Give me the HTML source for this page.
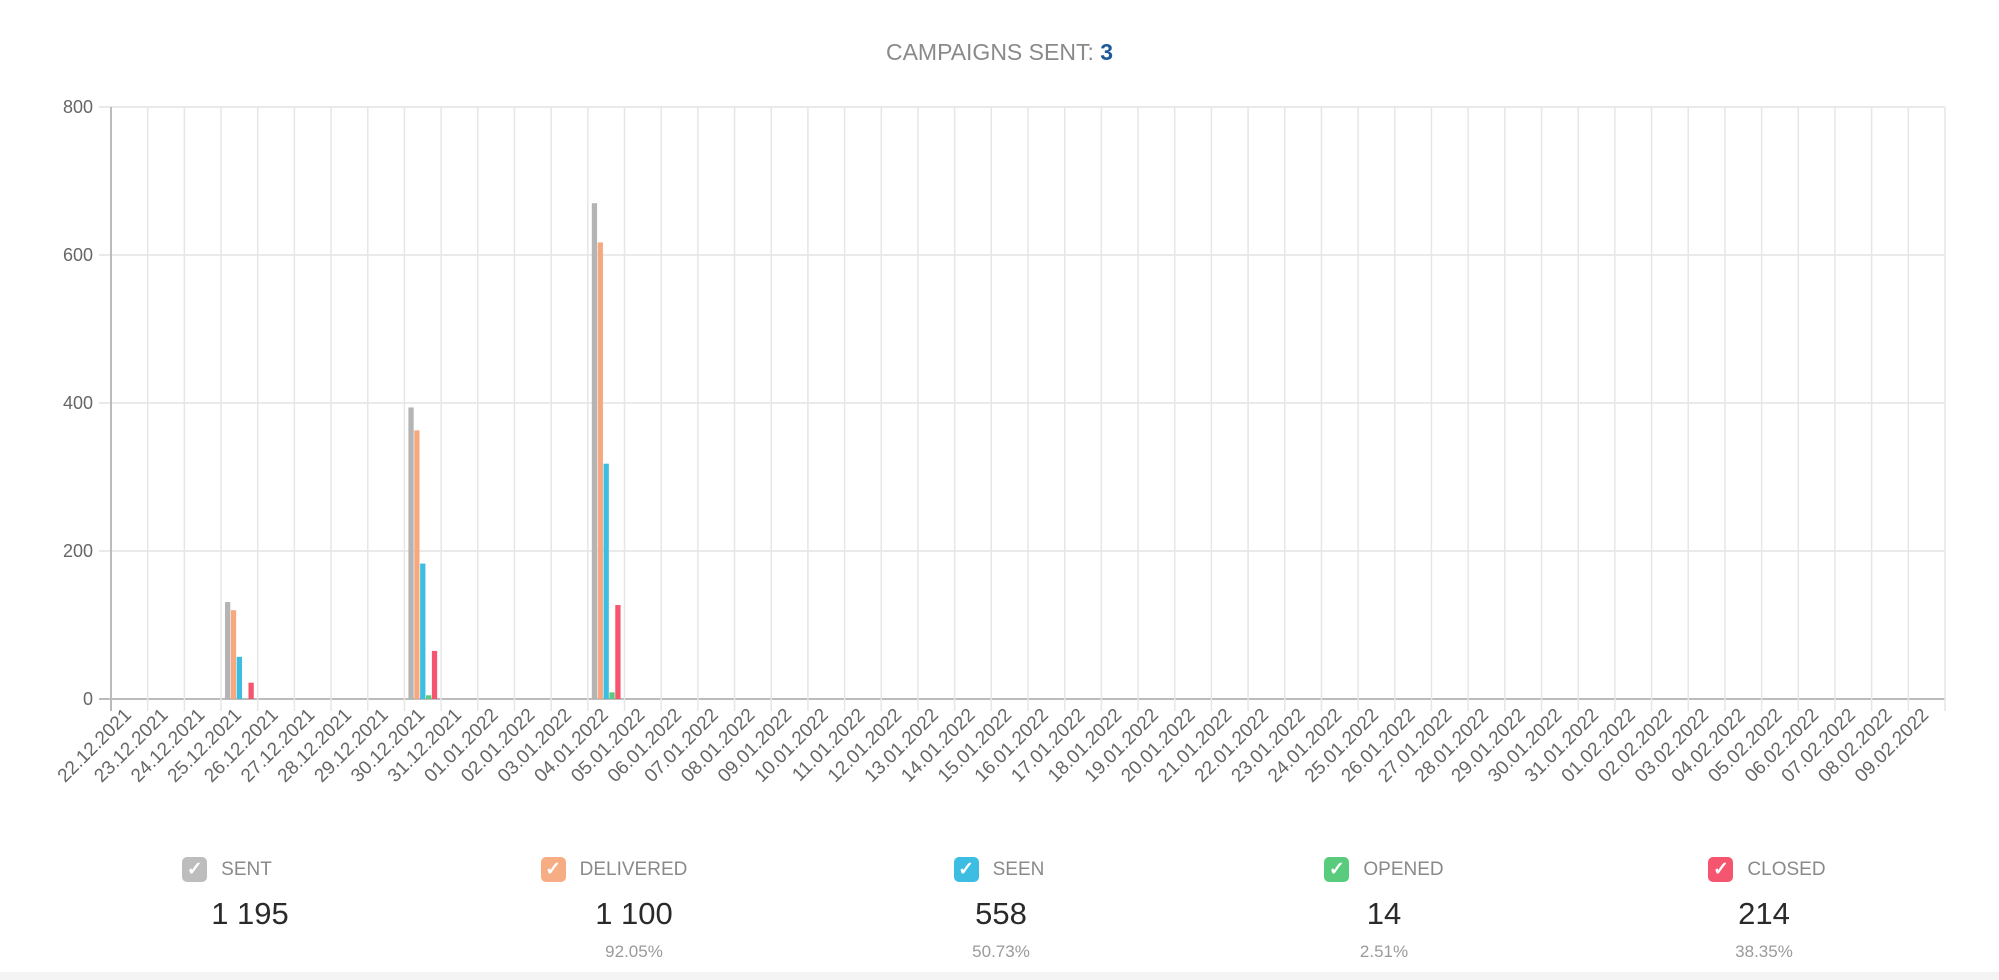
<!DOCTYPE html>
<html><head><meta charset="utf-8"><style>
body{margin:0;width:1999px;height:980px;background:#fff;font-family:"Liberation Sans",sans-serif;overflow:hidden;position:relative}
.title{position:absolute;top:39px;left:0;width:1999px;text-align:center;font-size:23px;color:#8a8a8a}
.title b{color:#1f5a9c}
.col{position:absolute;top:857px;width:300px;text-align:center}
.hd{display:flex;justify-content:center;align-items:center;gap:14px;font-size:19px;color:#8a8a8a}
.cb{width:25px;height:25px;border-radius:5px;color:#fff;font-size:19px;line-height:25px;text-align:center;font-weight:bold}
.num{font-size:31px;color:#2a2a2a;margin-top:14px}
.pct{font-size:17px;color:#9a9a9a;margin-top:10px;height:20px}
.foot{position:absolute;left:0;top:972px;width:1999px;height:8px;background:#f4f4f4}
</style></head><body>
<div class="title">CAMPAIGNS SENT: <b>3</b></div>
<svg id="chart" width="1999" height="840" style="position:absolute;left:0;top:0"></svg>
<div class="col" style="left:100px"><div class="hd" style="margin-right:46px"><div class="cb" style="background:#bdbdbd">✓</div>SENT</div><div class="num">1 195</div><div class="pct"></div></div>
<div class="col" style="left:484px"><div class="hd" style="margin-right:40px"><div class="cb" style="background:#f7ad84">✓</div>DELIVERED</div><div class="num">1 100</div><div class="pct">92.05%</div></div>
<div class="col" style="left:851px"><div class="hd" style="margin-right:4px"><div class="cb" style="background:#3dbde2">✓</div>SEEN</div><div class="num">558</div><div class="pct">50.73%</div></div>
<div class="col" style="left:1234px"><div class="hd"><div class="cb" style="background:#58cc7c">✓</div>OPENED</div><div class="num">14</div><div class="pct">2.51%</div></div>
<div class="col" style="left:1614px"><div class="hd" style="margin-left:6px"><div class="cb" style="background:#f5556e">✓</div>CLOSED</div><div class="num">214</div><div class="pct">38.35%</div></div>
<div class="foot"></div>
<script>
const categories=["22.12.2021","23.12.2021","24.12.2021","25.12.2021","26.12.2021","27.12.2021","28.12.2021","29.12.2021","30.12.2021","31.12.2021","01.01.2022","02.01.2022","03.01.2022","04.01.2022","05.01.2022","06.01.2022","07.01.2022","08.01.2022","09.01.2022","10.01.2022","11.01.2022","12.01.2022","13.01.2022","14.01.2022","15.01.2022","16.01.2022","17.01.2022","18.01.2022","19.01.2022","20.01.2022","21.01.2022","22.01.2022","23.01.2022","24.01.2022","25.01.2022","26.01.2022","27.01.2022","28.01.2022","29.01.2022","30.01.2022","31.01.2022","01.02.2022","02.02.2022","03.02.2022","04.02.2022","05.02.2022","06.02.2022","07.02.2022","08.02.2022","09.02.2022"];
const seriesNames=["sent","delivered","seen","opened","closed"];
const seriesColors=["#b4b4b4","#f6a97e","#3dbde2","#58cc7c","#f5556e"];
const pointCats=["25.12.2021","30.12.2021","04.01.2022"];
const sentVals=[131,394,670];
const deliveredVals=[120,363,617];
const seenVals=[57,183,318];
const openedVals=[0,5,9];
const closedVals=[22,65,127];
const yTicks=[0,200,400,600,800];
const allSeries=[sentVals,deliveredVals,seenVals,openedVals,closedVals];
const X0=111,X1=1945,Y0=699,YT=107,YMAX=800;
const NS="http://www.w3.org/2000/svg";
const svg=document.getElementById('chart');
const bw=(X1-X0)/categories.length;
const xs=i=>X0+i*bw;
const ys=v=>Y0-(v/YMAX)*(Y0-YT);
function mk(t,a){const e=document.createElementNS(NS,t);for(const k in a)e.setAttribute(k,a[k]);svg.appendChild(e);return e;}
yTicks.forEach(v=>{
  const l=mk('line',{x1:X0-12,x2:X1,y1:ys(v),y2:ys(v),stroke:v===0?'#bbb':'#e4e4e4','stroke-width':v===0?2:1.5});
  
  
  const t=mk('text',{x:X0-18,y:ys(v)+6,'text-anchor':'end','font-size':18,fill:'#666'});
  t.textContent=v;
  
  
});
for(let i=0;i<=categories.length;i++){
  const l=mk('line',{x1:xs(i),x2:xs(i),y1:YT,y2:Y0+12,stroke:i===0?'#bbb':'#e6e6e6','stroke-width':i===0?2:1.5});
  
  
}
categories.forEach((c,i)=>{
  const cx=xs(i)+bw/2+3,cy=716;
  const t=mk('text',{x:cx,y:cy,'text-anchor':'end','font-size':19,fill:'#666',transform:`rotate(-45 ${cx} ${cy})`});
  t.textContent=c;
  
  
});
const grpW=bw*0.8,slot=grpW/seriesNames.length,barW=slot*0.9;
pointCats.forEach((c,j)=>{
  const i=categories.indexOf(c);
  allSeries.forEach((vals,s)=>{
    const v=vals[j];
    const x=xs(i)+bw*0.1+s*slot+(slot-barW)/2;
    const r=mk('rect',{x:x,y:ys(v),width:barW,height:Y0-ys(v),fill:seriesColors[s]});
    
    
  });
});
</script>
</body></html>
